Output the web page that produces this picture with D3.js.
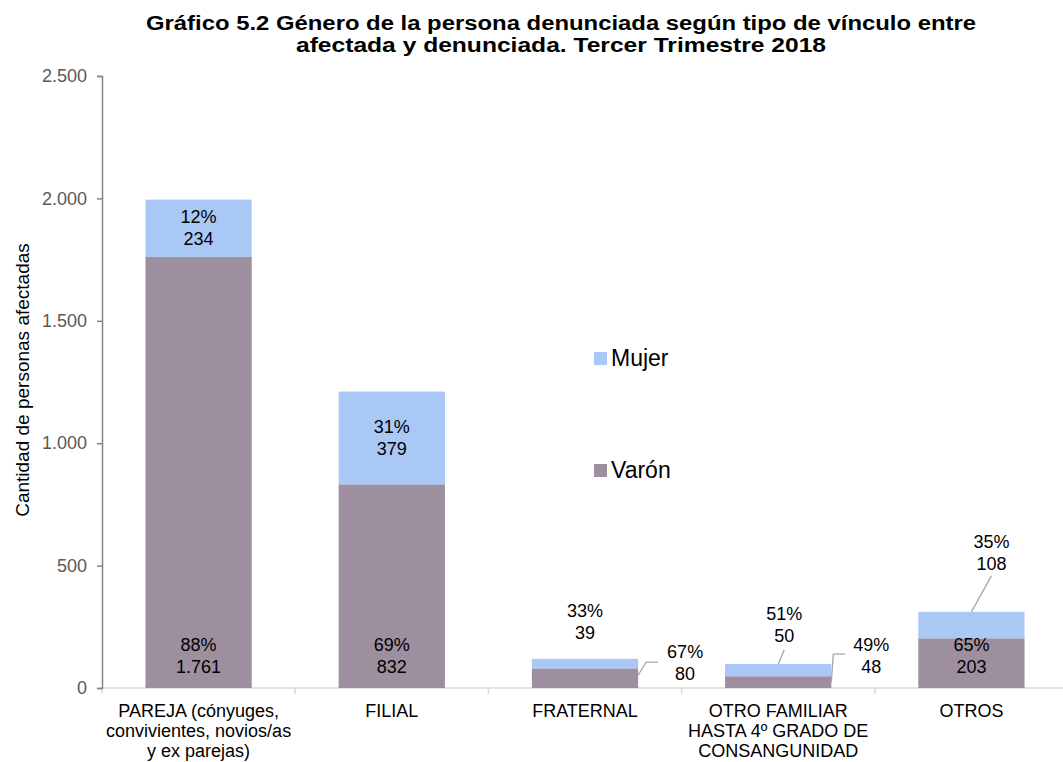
<!DOCTYPE html>
<html>
<head>
<meta charset="utf-8">
<script src="https://cdn.jsdelivr.net/npm/d3@7"></script>
<style>
  html, body { margin: 0; padding: 0; background: #fff; }
  svg { display: block; font-family: "Liberation Sans", Arial, sans-serif; }
</style>
</head>
<body>
<svg id="chart" width="1063" height="762"></svg>
<script>
const categories = [
  "PAREJA (cónyuges, convivientes, novios/as y ex parejas)",
  "FILIAL",
  "FRATERNAL",
  "OTRO FAMILIAR HASTA 4º GRADO DE CONSANGUNIDAD",
  "OTROS"
];
const categoryLines = [
  ["PAREJA (cónyuges,", "convivientes, novios/as", "y ex parejas)"],
  ["FILIAL"],
  ["FRATERNAL"],
  ["OTRO FAMILIAR", "HASTA 4º GRADO DE", "CONSANGUNIDAD"],
  ["OTROS"]
];
const varon = [1761, 832, 80, 48, 203];
const mujer = [234, 379, 39, 50, 108];
const varonPct = ["88%", "69%", "67%", "49%", "65%"];
const mujerPct = ["12%", "31%", "33%", "51%", "35%"];
const yTicks = [0, 500, 1000, 1500, 2000, 2500];
const seriesNames = ["Varón", "Mujer"];

const colors = { "Varón": "#9e8f9f", "Mujer": "#a9c8f5" };

const svg = d3.select("#chart");
const margin = { left: 102, right: 1068, top: 76, bottom: 688 };

const x = d3.scaleBand().domain(categories).range([margin.left, margin.right])
  .paddingInner(0.45).paddingOuter(0.225);
const xb = d3.scaleBand().domain(categories).range([margin.left, margin.right]);
const y = d3.scaleLinear().domain([0, 2500]).range([margin.bottom, margin.top]);

const fmt = d3.formatLocale({ decimal: ",", thousands: ".", grouping: [3], currency: ["$", ""] }).format(",d");

// Title
const title = svg.append("text").attr("text-anchor", "middle")
  .attr("font-weight", "bold").attr("font-size", 20).attr("fill", "#000");
title.append("tspan").attr("x", 561).attr("y", 30)
  .attr("textLength", 830).attr("lengthAdjust", "spacingAndGlyphs")
  .text("Gráfico 5.2 Género de la persona denunciada según tipo de vínculo entre");
title.append("tspan").attr("x", 561).attr("y", 52)
  .attr("textLength", 530).attr("lengthAdjust", "spacingAndGlyphs")
  .text("afectada y denunciada. Tercer Trimestre 2018");

// X axis baseline (light)
svg.append("line").attr("x1", margin.left).attr("x2", margin.right)
  .attr("y1", y(0)).attr("y2", y(0)).attr("stroke", "#d9d9d9").attr("stroke-width", 1.5);
const boundaries = categories.map(c => xb(c)).concat([margin.right]);
svg.selectAll(".xtick").data(boundaries).enter().append("line")
  .attr("x1", d => d).attr("x2", d => d)
  .attr("y1", y(0)).attr("y2", y(0) + 6)
  .attr("stroke", "#d9d9d9").attr("stroke-width", 1.5);

// Y axis
const yAxis = d3.axisLeft(y).tickValues(yTicks).tickSize(5).tickPadding(10)
  .tickFormat(d => fmt(d));
const gy = svg.append("g").attr("transform", `translate(${margin.left},0)`).call(yAxis);
gy.select(".domain").attr("stroke", "#868686").attr("stroke-width", 1.5);
gy.selectAll(".tick line").attr("stroke", "#868686").attr("stroke-width", 1.5);
gy.selectAll(".tick text").attr("fill", "#595959").attr("font-size", 18)
  .attr("font-family", "Liberation Sans, Arial, sans-serif");

// Y title
svg.append("text").attr("transform", `translate(29,${(y(0) + y(2500)) / 2 - 2}) rotate(-90)`)
  .attr("text-anchor", "middle").attr("font-size", 19).attr("fill", "#000")
  .text("Cantidad de personas afectadas");

// Bars
const stackData = categories.map((c, i) => ({ cat: c, "Varón": varon[i], "Mujer": mujer[i] }));
const stack = d3.stack().keys(seriesNames)(stackData);
svg.selectAll(".series").data(stack).enter().append("g")
  .attr("fill", d => colors[d.key])
  .selectAll("rect").data(d => d).enter().append("rect")
  .attr("x", d => x(d.data.cat))
  .attr("width", x.bandwidth())
  .attr("y", d => y(d[1]))
  .attr("height", d => y(d[0]) - y(d[1]));

// Labels
const labels = svg.append("g").attr("font-size", 18).attr("fill", "#000").attr("text-anchor", "middle");
function twoLine(cx, cyTop, l1, l2) {
  const t = labels.append("text");
  t.append("tspan").attr("x", cx).attr("y", cyTop + 6).text(l1);
  t.append("tspan").attr("x", cx).attr("y", cyTop + 28).text(l2);
}
const cxOf = i => x(categories[i]) + x.bandwidth() / 2;
const right = i => x(categories[i]) + x.bandwidth();

// Varón labels
[0, 1, 4].forEach(i => twoLine(cxOf(i), y(0) - 43, varonPct[i], fmt(varon[i])));
{
  const i = 2, mid = (y(0) + y(varon[i])) / 2;
  twoLine(right(i) + 47, y(0) - 36, varonPct[i], fmt(varon[i]));
  svg.append("path").attr("fill", "none").attr("stroke", "#a6a6a6").attr("stroke-width", 1.3)
    .attr("d", `M${right(i)},${mid - 3}L${right(i) + 8},${mid - 16}L${right(i) + 20},${mid - 16}`);
}
{
  const i = 3, mid = (y(0) + y(varon[i])) / 2;
  twoLine(right(i) + 40, y(0) - 43, varonPct[i], fmt(varon[i]));
  svg.append("path").attr("fill", "none").attr("stroke", "#a6a6a6").attr("stroke-width", 1.3)
    .attr("d", `M${right(i)},${mid}L${right(i) + 2},${mid - 28}L${right(i) + 14},${mid - 28}`);
}
// Mujer labels
[0, 1].forEach(i => {
  const c = (y(varon[i]) + y(varon[i] + mujer[i])) / 2;
  twoLine(cxOf(i), c - 11, mujerPct[i], fmt(mujer[i]));
});
{
  const i = 2, top = y(varon[i] + mujer[i]);
  twoLine(cxOf(i), top - 48, mujerPct[i], fmt(mujer[i]));
}
{
  const i = 3, top = y(varon[i] + mujer[i]);
  twoLine(cxOf(i) + 6, top - 50, mujerPct[i], fmt(mujer[i]));
  svg.append("line").attr("stroke", "#a6a6a6").attr("stroke-width", 1.3)
    .attr("x1", cxOf(i) + 6).attr("y1", top - 14).attr("x2", cxOf(i)).attr("y2", top);
}
{
  const i = 4, top = y(varon[i] + mujer[i]);
  twoLine(cxOf(i) + 20, top - 70, mujerPct[i], fmt(mujer[i]));
  svg.append("line").attr("stroke", "#a6a6a6").attr("stroke-width", 1.3)
    .attr("x1", cxOf(i) + 20).attr("y1", top - 36).attr("x2", cxOf(i)).attr("y2", top);
}

// Category labels
categoryLines.forEach((lines, i) => {
  const t = svg.append("text").attr("text-anchor", "middle").attr("font-size", 18).attr("fill", "#000");
  lines.forEach((ln, k) => t.append("tspan").attr("x", cxOf(i)).attr("y", y(0) + 29 + k * 20).text(ln));
});

// Legend
const legend = svg.append("g");
[["Mujer", 352], ["Varón", 464]].forEach(([name, ly]) => {
  legend.append("rect").attr("x", 594).attr("y", ly).attr("width", 13).attr("height", 13).attr("fill", colors[name]);
  legend.append("text").attr("x", 611).attr("y", ly + 14).attr("font-size", 23).attr("fill", "#000").text(name);
});
</script>
</body>
</html>
